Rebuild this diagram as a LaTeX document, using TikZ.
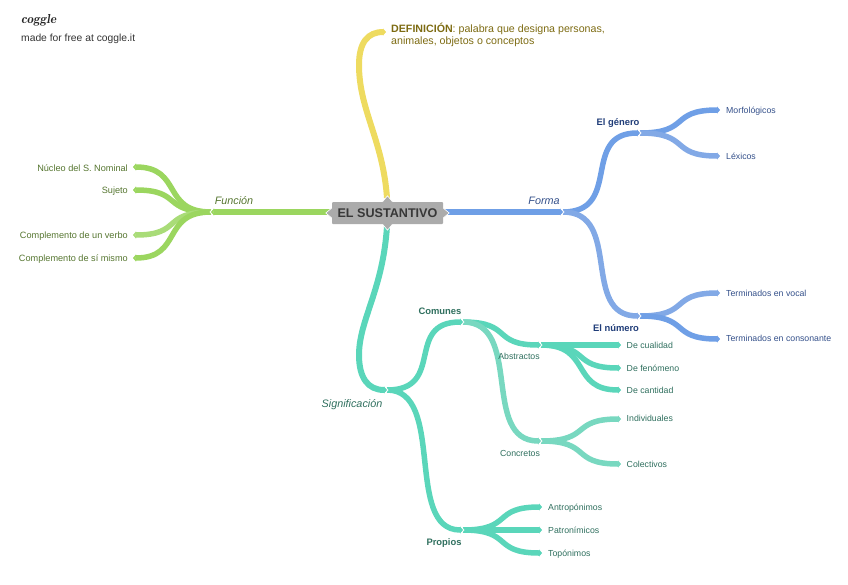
\documentclass[tikz,border=0pt]{standalone}
\usepackage{fontspec}
\setmainfont{Liberation Sans}
\usetikzlibrary{calc,arrows.meta}
\definecolor{gre}{HTML}{9BD65F}
\definecolor{grl}{HTML}{A9DC78}
\definecolor{blu}{HTML}{6F9FE6}
\definecolor{bll}{HTML}{82A9E6}
\definecolor{tea}{HTML}{5AD6BA}
\definecolor{tel}{HTML}{78D8C0}
\definecolor{yel}{HTML}{EEDB60}
\definecolor{boxc}{HTML}{ABABAB}
\definecolor{gtx}{HTML}{55752F}
\definecolor{btx}{HTML}{34508A}
\definecolor{bbt}{HTML}{1F3C78}
\definecolor{ttx}{HTML}{2F6F5E}
\definecolor{ytx}{HTML}{7D6B12}
\tikzset{
  br/.style={line width=#1,line cap=butt},
  br/.default=5.5pt,
  tipr/.style={-{Triangle[length=3pt,width=7pt]}},
  leaf/.style={inner sep=0pt,font=\fontsize{8.75}{11}\selectfont},
  lab/.style={inner sep=0pt,font=\fontsize{9.4}{11}\selectfont\bfseries},
  mainl/.style={inner sep=0pt,font=\fontsize{10.8}{13}\selectfont\itshape},
  chev/.style={draw=white,line width=.7pt,line join=miter}
}
\newcommand{\branchk}[4]{\draw[br,#2] let \p1=(#3),\p2=(#4),\n1={#1*(\x2-\x1)} in (#3) .. controls (\x1+\n1,\y1) and (\x2-\n1,\y2) .. (#4);}
\newcommand{\branch}[3]{\branchk{0.64}{#1}{#2}{#3}}
\newcommand{\tall}[3]{\branchk{0.78}{#1}{#2}{#3}}
\newcommand{\chevr}[1]{\draw[chev] ($(#1)+(-2,-3.5)$) -- ($(#1)+(1,0)$) -- ($(#1)+(-2,3.5)$);}
\newcommand{\chevl}[1]{\draw[chev] ($(#1)+(2,-3.5)$) -- ($(#1)+(-1,0)$) -- ($(#1)+(2,3.5)$);}
\begin{document}
\begin{tikzpicture}[x=1pt,y=-1pt]
\useasboundingbox (0,0) rectangle (848,584);
% coordinates
\coordinate (top) at (387,198);
\coordinate (bot) at (387,226);
\coordinate (lft) at (330,212);
\coordinate (rgt) at (445,212);
\coordinate (ydef) at (386,32);
\coordinate (fun) at (211,212);
\coordinate (for) at (563,212);
\coordinate (sig) at (387,390);
\coordinate (f1) at (133,167);
\coordinate (f2) at (133,190);
\coordinate (f3) at (133,235);
\coordinate (f4) at (133,258);
\coordinate (gen) at (640,133);
\coordinate (num) at (640,316);
\coordinate (g1) at (720,110);
\coordinate (g2) at (720,156);
\coordinate (n1) at (720,293);
\coordinate (n2) at (720,339);
\coordinate (com) at (463,322);
\coordinate (pro) at (463,530);
\coordinate (abs) at (541,345);
\coordinate (con) at (541,441);
\coordinate (a1) at (621,345);
\coordinate (a2) at (621,368);
\coordinate (a3) at (621,390);
\coordinate (c1) at (621,419);
\coordinate (c2) at (621,464);
\coordinate (p1) at (542,507);
\coordinate (p2) at (542,530);
\coordinate (p3) at (542,553);
% yellow and teal trunks
\draw[br=6pt,yel,tipr] (top) .. controls (383,140) and (359,110) .. (359,65) .. controls (359,42) and (368,32) .. (ydef);
\draw[br=6pt,tea,tipr] (bot) .. controls (383,290) and (359,320) .. (359,355) .. controls (359,378) and (368,390) .. (sig);
% green
\draw[br=6pt,gre,tipr] (lft) -- (fun);
\branch{gre,tipr}{fun}{f1}
\branch{gre,tipr}{fun}{f2}
\branch{grl,tipr}{fun}{f3}
\branch{gre,tipr}{fun}{f4}
% blue
\draw[br=6pt,blu,tipr] (rgt) -- (for);
\tall{blu,tipr}{for}{gen}
\tall{bll,tipr}{for}{num}
\branch{blu,tipr}{gen}{g1}
\branch{bll,tipr}{gen}{g2}
\branch{bll,tipr}{num}{n1}
\branch{blu,tipr}{num}{n2}
% teal
\tall{tea,tipr}{sig}{com}
\tall{tea,tipr}{sig}{pro}
\branch{tea,tipr}{com}{abs}
\tall{tel,tipr}{com}{con}
\branch{tea,tipr}{abs}{a1}
\branch{tea,tipr}{abs}{a2}
\branch{tea,tipr}{abs}{a3}
\branch{tel,tipr}{con}{c1}
\branch{tel,tipr}{con}{c2}
\branch{tea,tipr}{pro}{p1}
\branch{tea,tipr}{pro}{p2}
\branch{tea,tipr}{pro}{p3}
% chevrons at joints
\chevl{fun}\chevr{for}\chevr{gen}\chevr{num}\chevr{sig}\chevr{com}\chevr{abs}\chevr{con}\chevr{pro}
% central box
\node[fill=boxc,rounded corners=1pt,minimum width=111pt,minimum height=22pt,inner sep=0pt] (c) at (387.5,213) {};
\fill[boxc,draw=white,line width=.6pt] ($(c.north)+(-5,0)$) -- ($(c.north)+(0,-6)$) -- ($(c.north)+(5,0)$);
\fill[boxc,draw=white,line width=.6pt] ($(c.south)+(-5,0)$) -- ($(c.south)+(0,6)$) -- ($(c.south)+(5,0)$);
\fill[boxc,draw=white,line width=.6pt] ($(c.west)+(0,-5)$) -- ($(c.west)+(-6,0)$) -- ($(c.west)+(0,5)$);
\fill[boxc,draw=white,line width=.6pt] ($(c.east)+(0,-5)$) -- ($(c.east)+(6,0)$) -- ($(c.east)+(0,5)$);
\node[inner sep=0pt,text=black!78,font=\fontsize{12.6}{14}\selectfont\bfseries] (ct) at (387.5,213) {EL SUSTANTIVO};
% labels
\node[anchor=west,inner sep=0pt,text=ytx,align=left,font=\fontsize{10.65}{12.4}\selectfont] (d) at (391,34.6) {\textbf{DEFINICIÓN}: palabra que designa personas,\\animales, objetos o conceptos};
\node[mainl,text=gtx] (lf) at (234,201) {Función};
\node[mainl,text=btx] (lfo) at (544,201) {Forma};
\node[mainl,text=ttx] (ls) at (352,404.7) {Significación};
\foreach \n/\y/\t in {t1/167.7/Núcleo del S. Nominal,t2/190.7/Sujeto,t3/235.7/Complemento de un verbo,t4/258.7/Complemento de sí mismo}
  \node[leaf,anchor=east,text=gtx,font=\fontsize{9.15}{11}\selectfont] (\n) at (128,\y) {\t};
\node[lab,text=bbt] (lg) at (618,122.7) {El género};
\node[lab,text=bbt] (ln) at (616,328) {El número};
\foreach \n/\y/\t in {u1/110.7/Morfológicos,u2/156.4/Léxicos,u3/293/Terminados en vocal,u4/338.7/Terminados en consonante}
  \node[leaf,anchor=west,text=btx] (\n) at (726,\y) {\t};
\node[lab,text=ttx] (lc) at (440,311) {Comunes};
\node[lab,text=ttx] (lp) at (444,542.7) {Propios};
\node[leaf,text=ttx] (la) at (519,356.7) {Abstractos};
\node[leaf,text=ttx] (lk) at (520,453) {Concretos};
\foreach \n/\y/\t in {v1/345/De cualidad,v2/368/De fenómeno,v3/390.7/De cantidad,v4/418.5/Individuales,v5/464/Colectivos}
  \node[leaf,anchor=west,text=ttx] (\n) at (626.5,\y) {\t};
\foreach \n/\y/\t in {w1/507.7/Antropónimos,w2/530.7/Patronímicos,w3/553.7/Topónimos}
  \node[leaf,anchor=west,text=ttx] (\n) at (548,\y) {\t};
% watermark
\node[anchor=west,inner sep=0pt,text=black!85,font=\fontfamily{lmr}\fontsize{13}{14}\selectfont\bfseries\itshape] (lg1) at (21,20) {coggle};
\node[anchor=west,inner sep=0pt,text=black!80,font=\fontsize{10.3}{12}\selectfont] (lg2) at (21,38.5) {made for free at coggle.it};
\end{tikzpicture}
\end{document}
